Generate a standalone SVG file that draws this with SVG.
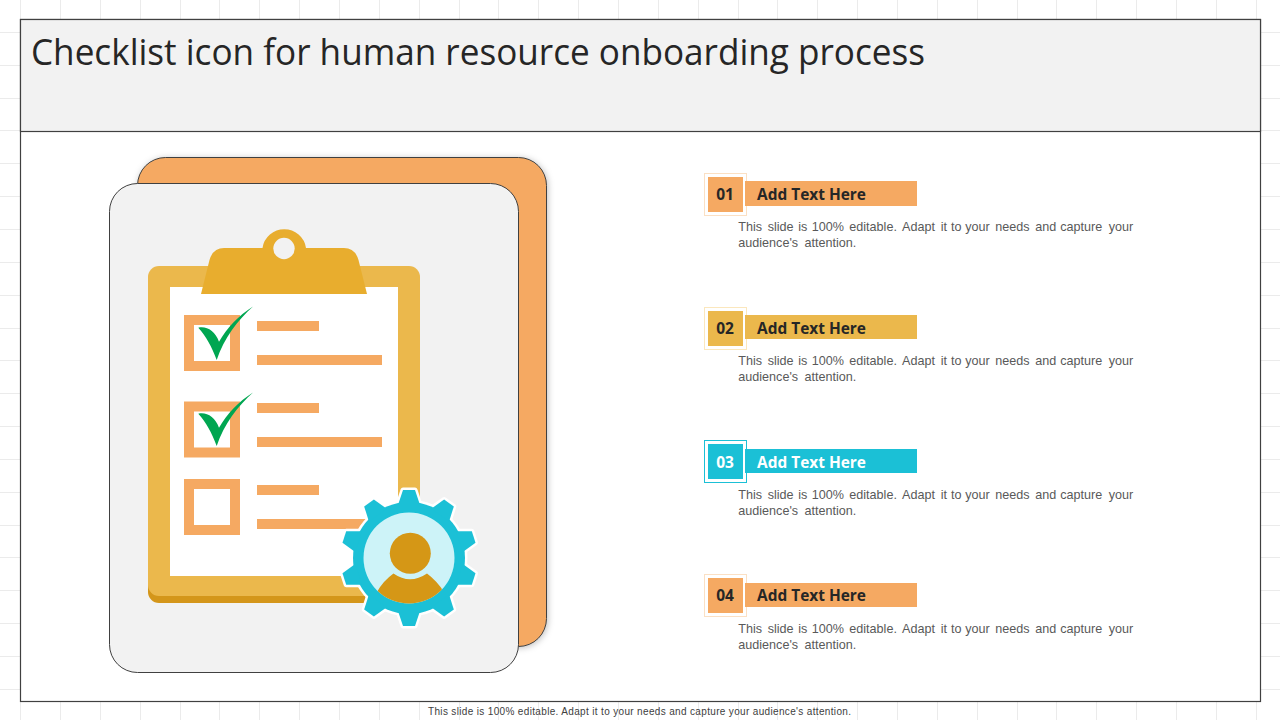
<svg xmlns="http://www.w3.org/2000/svg" width="1280" height="720" viewBox="0 0 1280 720">
<style>
.grid{stroke:#ebebeb;stroke-width:1;fill:none}
.frame{stroke:#404040;stroke-width:1.2}
.card{stroke:#404040;stroke-width:1}
.or{fill:#f5a962}
.go{fill:#ebb84c}
.cy{fill:#1bc0d6}
.num{font:700 15.5px "Open Sans","Noto Sans",sans-serif;fill:#262626;text-anchor:middle}
.head{font:700 15.5px "Open Sans","Noto Sans",sans-serif;fill:#262626}
.w{fill:#fff}
.body{font:12.6px "Liberation Sans",Arial,sans-serif;fill:#595959}
.check{fill:#00a651}
</style>
<defs>
<filter id="sh" x="-5%" y="-5%" width="110%" height="110%"><feDropShadow dx="1" dy="1" stdDeviation="3" flood-color="#000" flood-opacity="0.25"/></filter>
<path id="chk" d="M198.300 327.700C207 326 215 331 219 341.700C227 328 238 316 253 306.500C238 320 224 338 216.700 360C212 347 206 336 198.300 327.700Z"/>
<g id="gear">
<circle r="56"/>
<path id="t" d="M-11-53L-6-68H6L11-53Z"/>
<use href="#t" transform="rotate(36)"/><use href="#t" transform="rotate(72)"/><use href="#t" transform="rotate(108)"/><use href="#t" transform="rotate(144)"/><use href="#t" transform="rotate(180)"/><use href="#t" transform="rotate(216)"/><use href="#t" transform="rotate(252)"/><use href="#t" transform="rotate(288)"/><use href="#t" transform="rotate(324)"/>
</g>
<clipPath id="disc"><circle cx="409" cy="558" r="45.500"/></clipPath>
</defs>

<rect width="1280" height="720" fill="#fff"/>
<path class="grid" d="M20.500 0V720M60.500 0V720M100.500 0V720M140.500 0V720M180.500 0V720M219.500 0V720M259.500 0V720M299.500 0V720M339.500 0V720M379.500 0V720M419.500 0V720M459.500 0V720M498.500 0V720M538.500 0V720M578.500 0V720M618.500 0V720M658.500 0V720M698.500 0V720M738.500 0V720M777.500 0V720M817.500 0V720M857.500 0V720M897.500 0V720M937.500 0V720M977.500 0V720M1017.500 0V720M1056.500 0V720M1096.500 0V720M1136.500 0V720M1176.500 0V720M1216.500 0V720M1256.500 0V720M0 32.500H1280M0 65.500H1280M0 98.500H1280M0 130.500H1280M0 163.500H1280M0 196.500H1280M0 229.500H1280M0 262.500H1280M0 295.500H1280M0 328.500H1280M0 360.500H1280M0 393.500H1280M0 426.500H1280M0 459.500H1280M0 492.500H1280M0 525.500H1280M0 557.500H1280M0 590.500H1280M0 623.500H1280M0 656.500H1280M0 689.500H1280"/>

<g id="frame">
<rect class="frame" x="20.500" y="19.500" width="1240" height="682" fill="#fff"/>
<rect class="frame" x="20.500" y="19.500" width="1240" height="112" fill="#f2f2f2"/>
<text x="31" y="65" font-family="'Open Sans','Noto Sans',sans-serif" font-size="36" fill="#262626" textLength="894" lengthAdjust="spacingAndGlyphs">Checklist icon for human resource onboarding process</text>
</g>

<g id="cards">
<rect class="card or" x="137.500" y="157.500" width="409" height="489" rx="28" filter="url(#sh)"/>
<rect class="card" x="109.500" y="183.500" width="409" height="489" rx="28" fill="#f2f2f2"/>
</g>

<g id="clipboard">
<rect x="148" y="272" width="272" height="331" rx="11" fill="#d4961a"/>
<rect class="go" x="148" y="266" width="272" height="330" rx="11"/>
<rect class="w" x="170" y="287" width="228" height="289"/>
<path fill="#e8ad2e" d="M201 294L209.500 260Q213 248 224 248H262.500A22 22 0 0 1 306 248H344Q355 248 358.500 260L367 294Z"/>
<circle cx="284" cy="248.500" r="10.700" fill="#f2f2f2"/>
</g>

<g id="check1">
<rect class="or" x="184" y="315" width="56" height="56"/><rect class="w" x="194" y="325" width="36" height="36"/>
<rect class="or" x="257" y="321" width="62" height="10"/><rect class="or" x="257" y="355" width="125" height="10"/>
<use href="#chk" class="check"/>
</g>
<g id="check2">
<rect class="or" x="184" y="401.500" width="56" height="56"/><rect class="w" x="194" y="411.500" width="36" height="36"/>
<rect class="or" x="257" y="403" width="62" height="10"/><rect class="or" x="257" y="437" width="125" height="10"/>
<use href="#chk" class="check" transform="translate(0 86)"/>
</g>
<g id="check3">
<rect class="or" x="184" y="479" width="56" height="56"/><rect class="w" x="194" y="489" width="36" height="36"/>
<rect class="or" x="257" y="485" width="62" height="10"/><rect class="or" x="257" y="519" width="125" height="10"/>
</g>

<g id="gear-person">
<use href="#gear" transform="translate(409 558)" fill="#fff" stroke="#fff" stroke-width="5" stroke-linejoin="round"/>
<use href="#gear" class="cy" transform="translate(409 558)"/>
<circle cx="409" cy="558" r="45.500" fill="#cdf3f8"/>
<circle cx="410.300" cy="553.300" r="20.500" fill="#d59716"/>
<path clip-path="url(#disc)" fill="#d59716" d="M377 600V592Q383 581 393.500 573.500Q410 585 427 573.500Q437 581 444 592V610H377Z"/>
</g>

<g id="item1">
<rect x="704.500" y="173.500" width="42" height="42" fill="#fff" stroke="#fbe0c4"/>
<rect class="or" x="745" y="181" width="172" height="25"/>
<rect class="or" x="708" y="177" width="35" height="35"/>
<text class="num" x="725" y="200">01</text>
<text class="head" x="757" y="200" textLength="109" lengthAdjust="spacingAndGlyphs">Add Text Here</text>
<text class="body" y="231"><tspan x="738.300">This</tspan> <tspan x="767.700">slide</tspan> <tspan x="798.300">is</tspan> <tspan x="811.700">100%</tspan> <tspan x="849.300">editable.</tspan> <tspan x="902">Adapt</tspan> <tspan x="940.700">it</tspan> <tspan x="951">to</tspan> <tspan x="965.300">your</tspan> <tspan x="995.300">needs</tspan> <tspan x="1035.300">and</tspan> <tspan x="1060.300">capture</tspan> <tspan x="1108.700">your</tspan></text>
<text class="body" y="247"><tspan x="738.300">audience's</tspan> <tspan x="804.500">attention.</tspan></text>
</g>
<g id="item2">
<rect x="704.500" y="307.500" width="42" height="42" fill="#fff" stroke="#fbe7bd"/>
<rect class="go" x="745" y="315" width="172" height="24"/>
<rect class="go" x="708" y="311" width="35" height="35"/>
<text class="num" x="725" y="334">02</text>
<text class="head" x="757" y="334" textLength="109" lengthAdjust="spacingAndGlyphs">Add Text Here</text>
<text class="body" y="365"><tspan x="738.300">This</tspan> <tspan x="767.700">slide</tspan> <tspan x="798.300">is</tspan> <tspan x="811.700">100%</tspan> <tspan x="849.300">editable.</tspan> <tspan x="902">Adapt</tspan> <tspan x="940.700">it</tspan> <tspan x="951">to</tspan> <tspan x="965.300">your</tspan> <tspan x="995.300">needs</tspan> <tspan x="1035.300">and</tspan> <tspan x="1060.300">capture</tspan> <tspan x="1108.700">your</tspan></text>
<text class="body" y="381"><tspan x="738.300">audience's</tspan> <tspan x="804.500">attention.</tspan></text>
</g>
<g id="item3">
<rect x="704.500" y="440.500" width="42" height="42" fill="#fff" stroke="#1bc0d6"/>
<rect class="cy" x="745" y="449" width="172" height="24"/>
<rect class="cy" x="708" y="444" width="35" height="35"/>
<text class="num" style="fill:#fff" x="725" y="468">03</text>
<text class="head" style="fill:#fff" x="757" y="468" textLength="109" lengthAdjust="spacingAndGlyphs">Add Text Here</text>
<text class="body" y="499"><tspan x="738.300">This</tspan> <tspan x="767.700">slide</tspan> <tspan x="798.300">is</tspan> <tspan x="811.700">100%</tspan> <tspan x="849.300">editable.</tspan> <tspan x="902">Adapt</tspan> <tspan x="940.700">it</tspan> <tspan x="951">to</tspan> <tspan x="965.300">your</tspan> <tspan x="995.300">needs</tspan> <tspan x="1035.300">and</tspan> <tspan x="1060.300">capture</tspan> <tspan x="1108.700">your</tspan></text>
<text class="body" y="515"><tspan x="738.300">audience's</tspan> <tspan x="804.500">attention.</tspan></text>
</g>
<g id="item4">
<rect x="704.500" y="574.500" width="42" height="42" fill="#fff" stroke="#fbe0c4"/>
<rect class="or" x="745" y="583" width="172" height="24"/>
<rect class="or" x="708" y="578" width="35" height="35"/>
<text class="num" x="725" y="601">04</text>
<text class="head" x="757" y="601" textLength="109" lengthAdjust="spacingAndGlyphs">Add Text Here</text>
<text class="body" y="633"><tspan x="738.300">This</tspan> <tspan x="767.700">slide</tspan> <tspan x="798.300">is</tspan> <tspan x="811.700">100%</tspan> <tspan x="849.300">editable.</tspan> <tspan x="902">Adapt</tspan> <tspan x="940.700">it</tspan> <tspan x="951">to</tspan> <tspan x="965.300">your</tspan> <tspan x="995.300">needs</tspan> <tspan x="1035.300">and</tspan> <tspan x="1060.300">capture</tspan> <tspan x="1108.700">your</tspan></text>
<text class="body" y="649"><tspan x="738.300">audience's</tspan> <tspan x="804.500">attention.</tspan></text>
</g>

<g id="footer">
<text x="428" y="715" font-family="'Liberation Sans',Arial,sans-serif" font-size="10" fill="#404040" textLength="423" lengthAdjust="spacing">This slide is 100% editable.  Adapt it to your needs and capture your audience's attention.</text>
</g>
</svg>
